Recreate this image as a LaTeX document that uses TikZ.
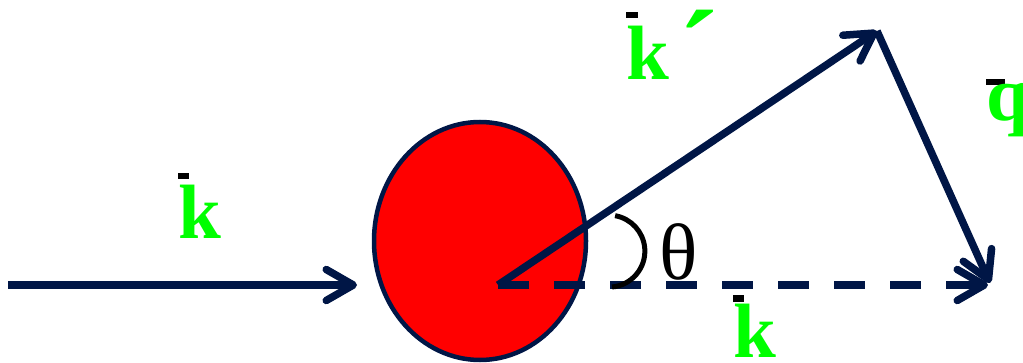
\documentclass[tikz,border=0pt]{standalone}
\usepackage{fontspec}
\setmainfont{Liberation Serif}
\usetikzlibrary{arrows.meta,shapes.geometric}
\definecolor{navy}{RGB}{0,22,70}
\definecolor{lime}{RGB}{0,255,0}
\newcommand{\vlab}[3]{\rlap{\color{black}\raisebox{#2}{\rule{#1}{0.08em}}}\textbf{#3}}

\begin{document}
\begin{tikzpicture}[x=1pt,y=1pt,
  vec/.style={draw=navy,line width=7.5pt,-{Straight Barb[length=27pt,width=31pt,round]}},
  lab/.style={text=lime,font=\fontsize{77}{77}\selectfont,inner sep=0pt,anchor=base west}]
\useasboundingbox (0,0) rectangle (1023,362);
\coordinate (src) at (8,77);
\coordinate (hit) at (357,77);
\coordinate (O) at (498,77);
\coordinate (kp) at (877,331);
\coordinate (qe) at (990,79);
\coordinate (ke) at (988,77);
\coordinate (pivot) at (612,75);
\node[ellipse,draw=navy,fill=red,line width=4.5pt,minimum width=212pt,minimum height=238pt,inner sep=0pt] (ball) at (480,121) {};
\draw[vec] (src)--(hit);
\draw[vec,dash pattern=on 31pt off 25pt] (O)--(ke);
\draw[vec] (O)--(kp);
\draw[vec] (kp)--(qe);
\draw[line width=5pt] (pivot) arc[start angle=-85,end angle=80,radius=36];
\node[inner sep=0pt,font=\fontsize{80}{80}\selectfont] (th) at (679,110) {θ};
\node[lab] (k) at (178,124) {\vlab{0.14em}{0.76em}{k}};
\node[lab] (kpr) at (626,282) {\vlab{0.15em}{0.8em}{k}\kern0.12em\raisebox{-0.17em}{\fontsize{120}{120}\selectfont\textbf{´}}};
\node[lab] (q) at (986,241) {\vlab{0.25em}{0.47em}{q}};
\node[lab] (kout) at (733,5) {\vlab{0.14em}{0.72em}{k}};
\end{tikzpicture}
\end{document}
